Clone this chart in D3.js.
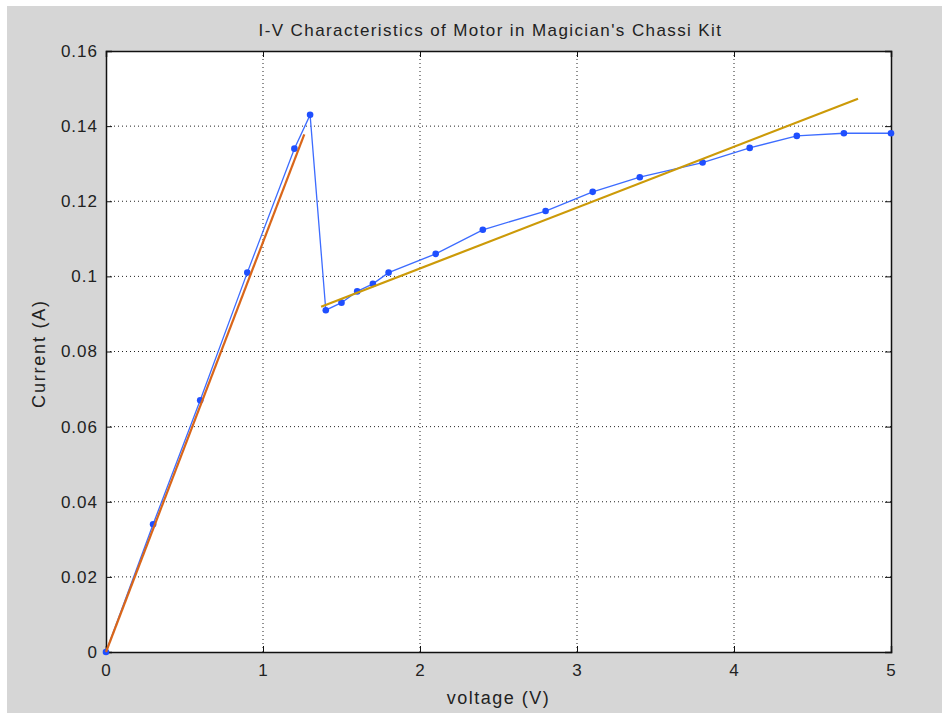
<!DOCTYPE html>
<html>
<head>
<meta charset="utf-8">
<script src="https://cdn.jsdelivr.net/npm/d3@7"></script>
<style>
  body { margin: 0; background: #fff; }
  text { font-family: "Liberation Sans", Arial, sans-serif; fill: #222; }
</style>
</head>
<body>
<svg id="chart"></svg>
<script>
// measured data: voltage (V) vs current (A)
var voltage = [0, 0.3, 0.6, 0.9, 1.2, 1.3, 1.4, 1.5, 1.6, 1.7, 1.8, 2.1, 2.4, 2.8, 3.1, 3.4, 3.8, 4.1, 4.4, 4.7, 5.0];
var current = [0, 0.034, 0.067, 0.101, 0.134, 0.143, 0.091, 0.093, 0.096, 0.098, 0.101, 0.106, 0.1124, 0.1174, 0.1225, 0.1264, 0.1303, 0.1342, 0.1374, 0.1381, 0.1381];

// linear fits (end points)
var fitLow = [[0, 0], [1.263, 0.1378]];
var fitHigh = [[1.37, 0.0919], [4.79, 0.1473]];

var xTicks = [0, 1, 2, 3, 4, 5];
var yTicks = [0, 0.02, 0.04, 0.06, 0.08, 0.1, 0.12, 0.14, 0.16];

var screen = {width: 942, height: 713};
var margins = {top: 51, right: 51, bottom: 61, left: 106};
var width = screen.width - margins.left - margins.right;
var height = screen.height - margins.top - margins.bottom;

var svg = d3.select("#chart")
    .attr("width", screen.width)
    .attr("height", screen.height);

// figure background
svg.append("rect")
    .attr("x", 7).attr("y", 6)
    .attr("width", screen.width - 7).attr("height", screen.height - 6)
    .attr("fill", "#d6d6d6");

var xScale = d3.scaleLinear().domain([0, 5]).range([0, width]);
var yScale = d3.scaleLinear().domain([0, 0.16]).range([height, 0]);

var g = svg.append("g")
    .attr("transform", "translate(" + margins.left + "," + margins.top + ")");

g.append("rect")
    .attr("width", width).attr("height", height)
    .attr("fill", "#fff");

// dotted grid
g.selectAll(".vgrid")
    .data(xTicks.slice(1, -1))
    .enter().append("line")
    .attr("x1", function(d){ return xScale(d); })
    .attr("x2", function(d){ return xScale(d); })
    .attr("y1", 0).attr("y2", height)
    .attr("stroke", "#222").attr("stroke-width", 1)
    .attr("stroke-dasharray", "1,3");

g.selectAll(".hgrid")
    .data(yTicks.slice(1, -1))
    .enter().append("line")
    .attr("y1", function(d){ return yScale(d); })
    .attr("y2", function(d){ return yScale(d); })
    .attr("x1", 0).attr("x2", width)
    .attr("stroke", "#222").attr("stroke-width", 1)
    .attr("stroke-dasharray", "1,3");

// axes (inner ticks, box on all sides)
var xAxis = d3.axisBottom(xScale).tickValues(xTicks).tickSize(-6).tickPadding(12)
    .tickFormat(d3.format("d"));
var yAxis = d3.axisLeft(yScale).tickValues(yTicks).tickSize(-6).tickPadding(8)
    .tickFormat(function(d){ return d === 0 ? "0" : d3.format("")(+d.toFixed(2)); });

var gx = g.append("g").attr("transform", "translate(0," + height + ")").call(xAxis);
var gy = g.append("g").call(yAxis);
g.append("g").call(d3.axisTop(xScale).tickValues(xTicks).tickSize(-6).tickFormat(""));
g.append("g").attr("transform", "translate(" + width + ",0)")
    .call(d3.axisRight(yScale).tickValues(yTicks).tickSize(-6).tickFormat(""));

g.selectAll(".domain").attr("stroke", "#111").attr("stroke-width", 1.5);
g.selectAll(".tick line").attr("stroke", "#111");
gx.selectAll("text").style("font-size", "17px").style("letter-spacing", "1px").attr("fill", "#222");
gy.selectAll("text").style("font-size", "17px").style("letter-spacing", "1px").attr("fill", "#222");

// data line + markers
var points = voltage.map(function(v, i){ return [v, current[i]]; });

var line = d3.line()
    .x(function(d){ return xScale(d[0]); })
    .y(function(d){ return yScale(d[1]); });

g.append("path")
    .datum(points)
    .attr("d", line)
    .attr("fill", "none")
    .attr("stroke", "#3d6cff")
    .attr("stroke-width", 1.3);

g.selectAll(".pt")
    .data(points)
    .enter().append("circle")
    .attr("cx", function(d){ return xScale(d[0]); })
    .attr("cy", function(d){ return yScale(d[1]); })
    .attr("r", 3.3)
    .attr("fill", "#1f4fff");

// fits
g.append("path")
    .datum(fitLow)
    .attr("d", line)
    .attr("fill", "none")
    .attr("stroke", "#d9661a")
    .attr("stroke-width", 2.2);

g.append("path")
    .datum(fitHigh)
    .attr("d", line)
    .attr("fill", "none")
    .attr("stroke", "#cc9a08")
    .attr("stroke-width", 2.2);

// titles
svg.append("text")
    .attr("x", margins.left + width / 2 - 8)
    .attr("y", 36)
    .attr("text-anchor", "middle")
    .style("font-size", "17px")
    .style("letter-spacing", "1.4px")
    .text("I-V Characteristics of Motor in Magician's Chassi Kit");

svg.append("text")
    .attr("x", margins.left + width / 2)
    .attr("y", 704)
    .attr("text-anchor", "middle")
    .style("font-size", "18px")
    .style("letter-spacing", "1.5px")
    .text("voltage (V)");

svg.append("text")
    .attr("transform", "translate(45," + (margins.top + height / 2 + 2) + ") rotate(-90)")
    .attr("text-anchor", "middle")
    .style("font-size", "18px")
    .style("letter-spacing", "1.8px")
    .text("Current (A)");
</script>
</body>
</html>
